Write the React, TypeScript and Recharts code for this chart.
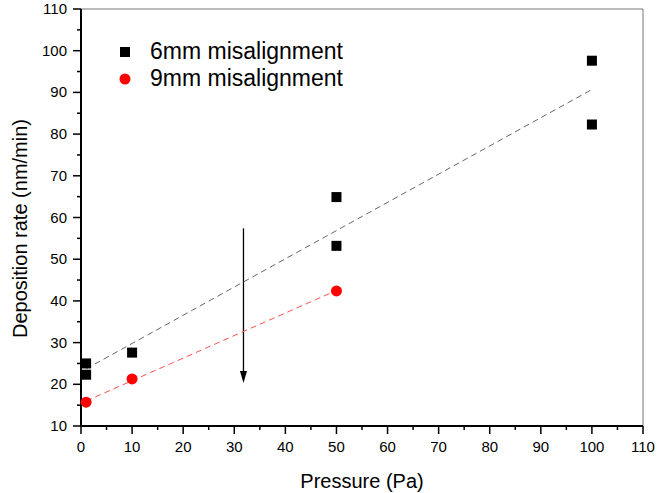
import { ScatterChart, Scatter, XAxis, YAxis, ReferenceLine, Legend } from 'recharts'

// 6mm misalignment
const pressure6mm = [1, 1, 10, 50, 50, 100, 100]
const rate6mm = [25.0, 22.3, 27.6, 64.9, 53.2, 97.6, 82.3]
// 9mm misalignment
const pressure9mm = [1, 10, 50]
const rate9mm = [15.7, 21.3, 42.4]
// linear fits
const fit6mmX = [1, 100]
const fit6mmY = [23.7, 90.7]
const fit9mmX = [1, 50]
const fit9mmY = [16.0, 42.5]
// arrow (pressure, rate)
const arrowX = [31.8, 31.8]
const arrowY = [57.4, 20.3]

const seriesNames = ['6mm misalignment', '9mm misalignment']
const xTicks = [0, 5, 10, 15, 20, 25, 30, 35, 40, 45, 50, 55, 60, 65, 70, 75, 80, 85, 90, 95, 100, 105, 110]
const yTicks = [10, 15, 20, 25, 30, 35, 40, 45, 50, 55, 60, 65, 70, 75, 80, 85, 90, 95, 100, 105, 110]

const zip = (xs: number[], ys: number[]) => xs.map((x, i) => ({ x, y: ys[i] }))

const FONT = '"Liberation Sans", Arial, sans-serif'

const XTick = (props: any) => {
  const { x, y, payload } = props
  const major = payload.value % 10 === 0
  return (
    <g>
      <line x1={x} x2={x} y1={y} y2={y + (major ? 8 : 4)} stroke="#000" strokeWidth={1.5} />
      {major && (
        <text x={x} y={y + 26} textAnchor="middle" fontSize={15} fontFamily={FONT} fill="#000">
          {payload.value}
        </text>
      )}
    </g>
  )
}

const YTick = (props: any) => {
  const { x, y, payload } = props
  const major = payload.value % 10 === 0
  return (
    <g>
      <line x1={x} x2={x - (major ? 8 : 4)} y1={y} y2={y} stroke="#000" strokeWidth={1.5} />
      {major && (
        <text x={x - 14} y={y + 5} textAnchor="end" fontSize={15} fontFamily={FONT} fill="#000">
          {payload.value}
        </text>
      )}
    </g>
  )
}

const YTitle = (props: any) => {
  const { viewBox } = props
  const cx = viewBox.x + 27
  const cy = viewBox.y + viewBox.height / 2 + 11
  return (
    <text
      x={cx}
      y={cy}
      transform={`rotate(-90, ${cx}, ${cy})`}
      textAnchor="middle"
      fontSize={20}
      fontFamily={FONT}
      fill="#000"
    >
      Deposition rate (nm/min)
    </text>
  )
}

const Square = (props: any) => {
  const { cx, cy } = props
  return <rect x={cx - 5} y={cy - 5} width={10} height={10} fill="#000" />
}

const Dot = (props: any) => {
  const { cx, cy } = props
  return <circle cx={cx} cy={cy} r={5.5} fill="#ff0000" />
}

const NoShape = () => <g />

const Arrow = (props: any) => {
  const { x1, y1, x2, y2 } = props
  return (
    <g>
      <line x1={x1} y1={y1} x2={x2} y2={y2 - 8} stroke="#000" strokeWidth={1.3} />
      <polygon points={`${x2},${y2} ${x2 - 3.5},${y2 - 12} ${x2 + 3.5},${y2 - 12}`} fill="#000" />
    </g>
  )
}

const LegendBox = () => (
  <div style={{ fontFamily: FONT, fontSize: 23, color: '#000' }}>
    {seriesNames.map((name, i) => (
      <div key={name} style={{ display: 'flex', alignItems: 'center', height: 27 }}>
        <svg width={14} height={14} style={{ marginRight: 18 }}>
          {i === 0 ? <rect x={2} y={2} width={10} height={10} fill="#000" /> : <circle cx={7} cy={7} r={5.5} fill="#ff0000" />}
        </svg>
        <span>{name}</span>
      </div>
    ))}
  </div>
)

export default function App() {
  return (
    <div style={{ position: 'absolute', left: 0, top: 0, width: 657, height: 493, background: '#fff' }}>
      <ScatterChart width={657} height={493} margin={{ top: 9, right: 14, bottom: 27, left: 0 }}>
        <XAxis
          type="number"
          dataKey="x"
          domain={[0, 110]}
          ticks={xTicks}
          interval={0}
          tick={<XTick />}
          tickLine={false}
          tickSize={0}
          tickMargin={0}
          height={40}
          axisLine={{ stroke: '#000', strokeWidth: 2 }}
          label={{ value: 'Pressure (Pa)', position: 'bottom', offset: 8, fontSize: 20, fill: '#000', fontFamily: FONT }}
        />
        <YAxis
          type="number"
          dataKey="y"
          domain={[10, 110]}
          ticks={yTicks}
          interval={0}
          tick={<YTick />}
          tickLine={false}
          tickSize={0}
          tickMargin={0}
          width={81}
          axisLine={{ stroke: '#000', strokeWidth: 2 }}
          label={<YTitle />}
        />
        <ReferenceLine y={110} stroke="#777" strokeWidth={1} />
        <ReferenceLine x={110} stroke="#777" strokeWidth={1} />
        <Legend
          layout="vertical"
          align="center"
          verticalAlign="middle"
          content={<LegendBox />}
          wrapperStyle={{ left: 118, top: 38, width: 'auto', height: 'auto' }}
        />
        <Scatter
          name="fit6"
          data={zip(fit6mmX, fit6mmY)}
          line={{ stroke: '#666', strokeWidth: 1, strokeDasharray: '6 4' }}
          shape={<NoShape />}
          isAnimationActive={false}
        />
        <Scatter
          name="fit9"
          data={zip(fit9mmX, fit9mmY)}
          line={{ stroke: '#ff5050', strokeWidth: 1, strokeDasharray: '6 4' }}
          shape={<NoShape />}
          isAnimationActive={false}
        />
        <Scatter name={seriesNames[0]} data={zip(pressure6mm, rate6mm)} shape={<Square />} isAnimationActive={false} />
        <Scatter name={seriesNames[1]} data={zip(pressure9mm, rate9mm)} shape={<Dot />} isAnimationActive={false} />
        <ReferenceLine
          segment={zip(arrowX, arrowY)}
          shape={<Arrow />}
          ifOverflow="visible"
        />
      </ScatterChart>
    </div>
  )
}
